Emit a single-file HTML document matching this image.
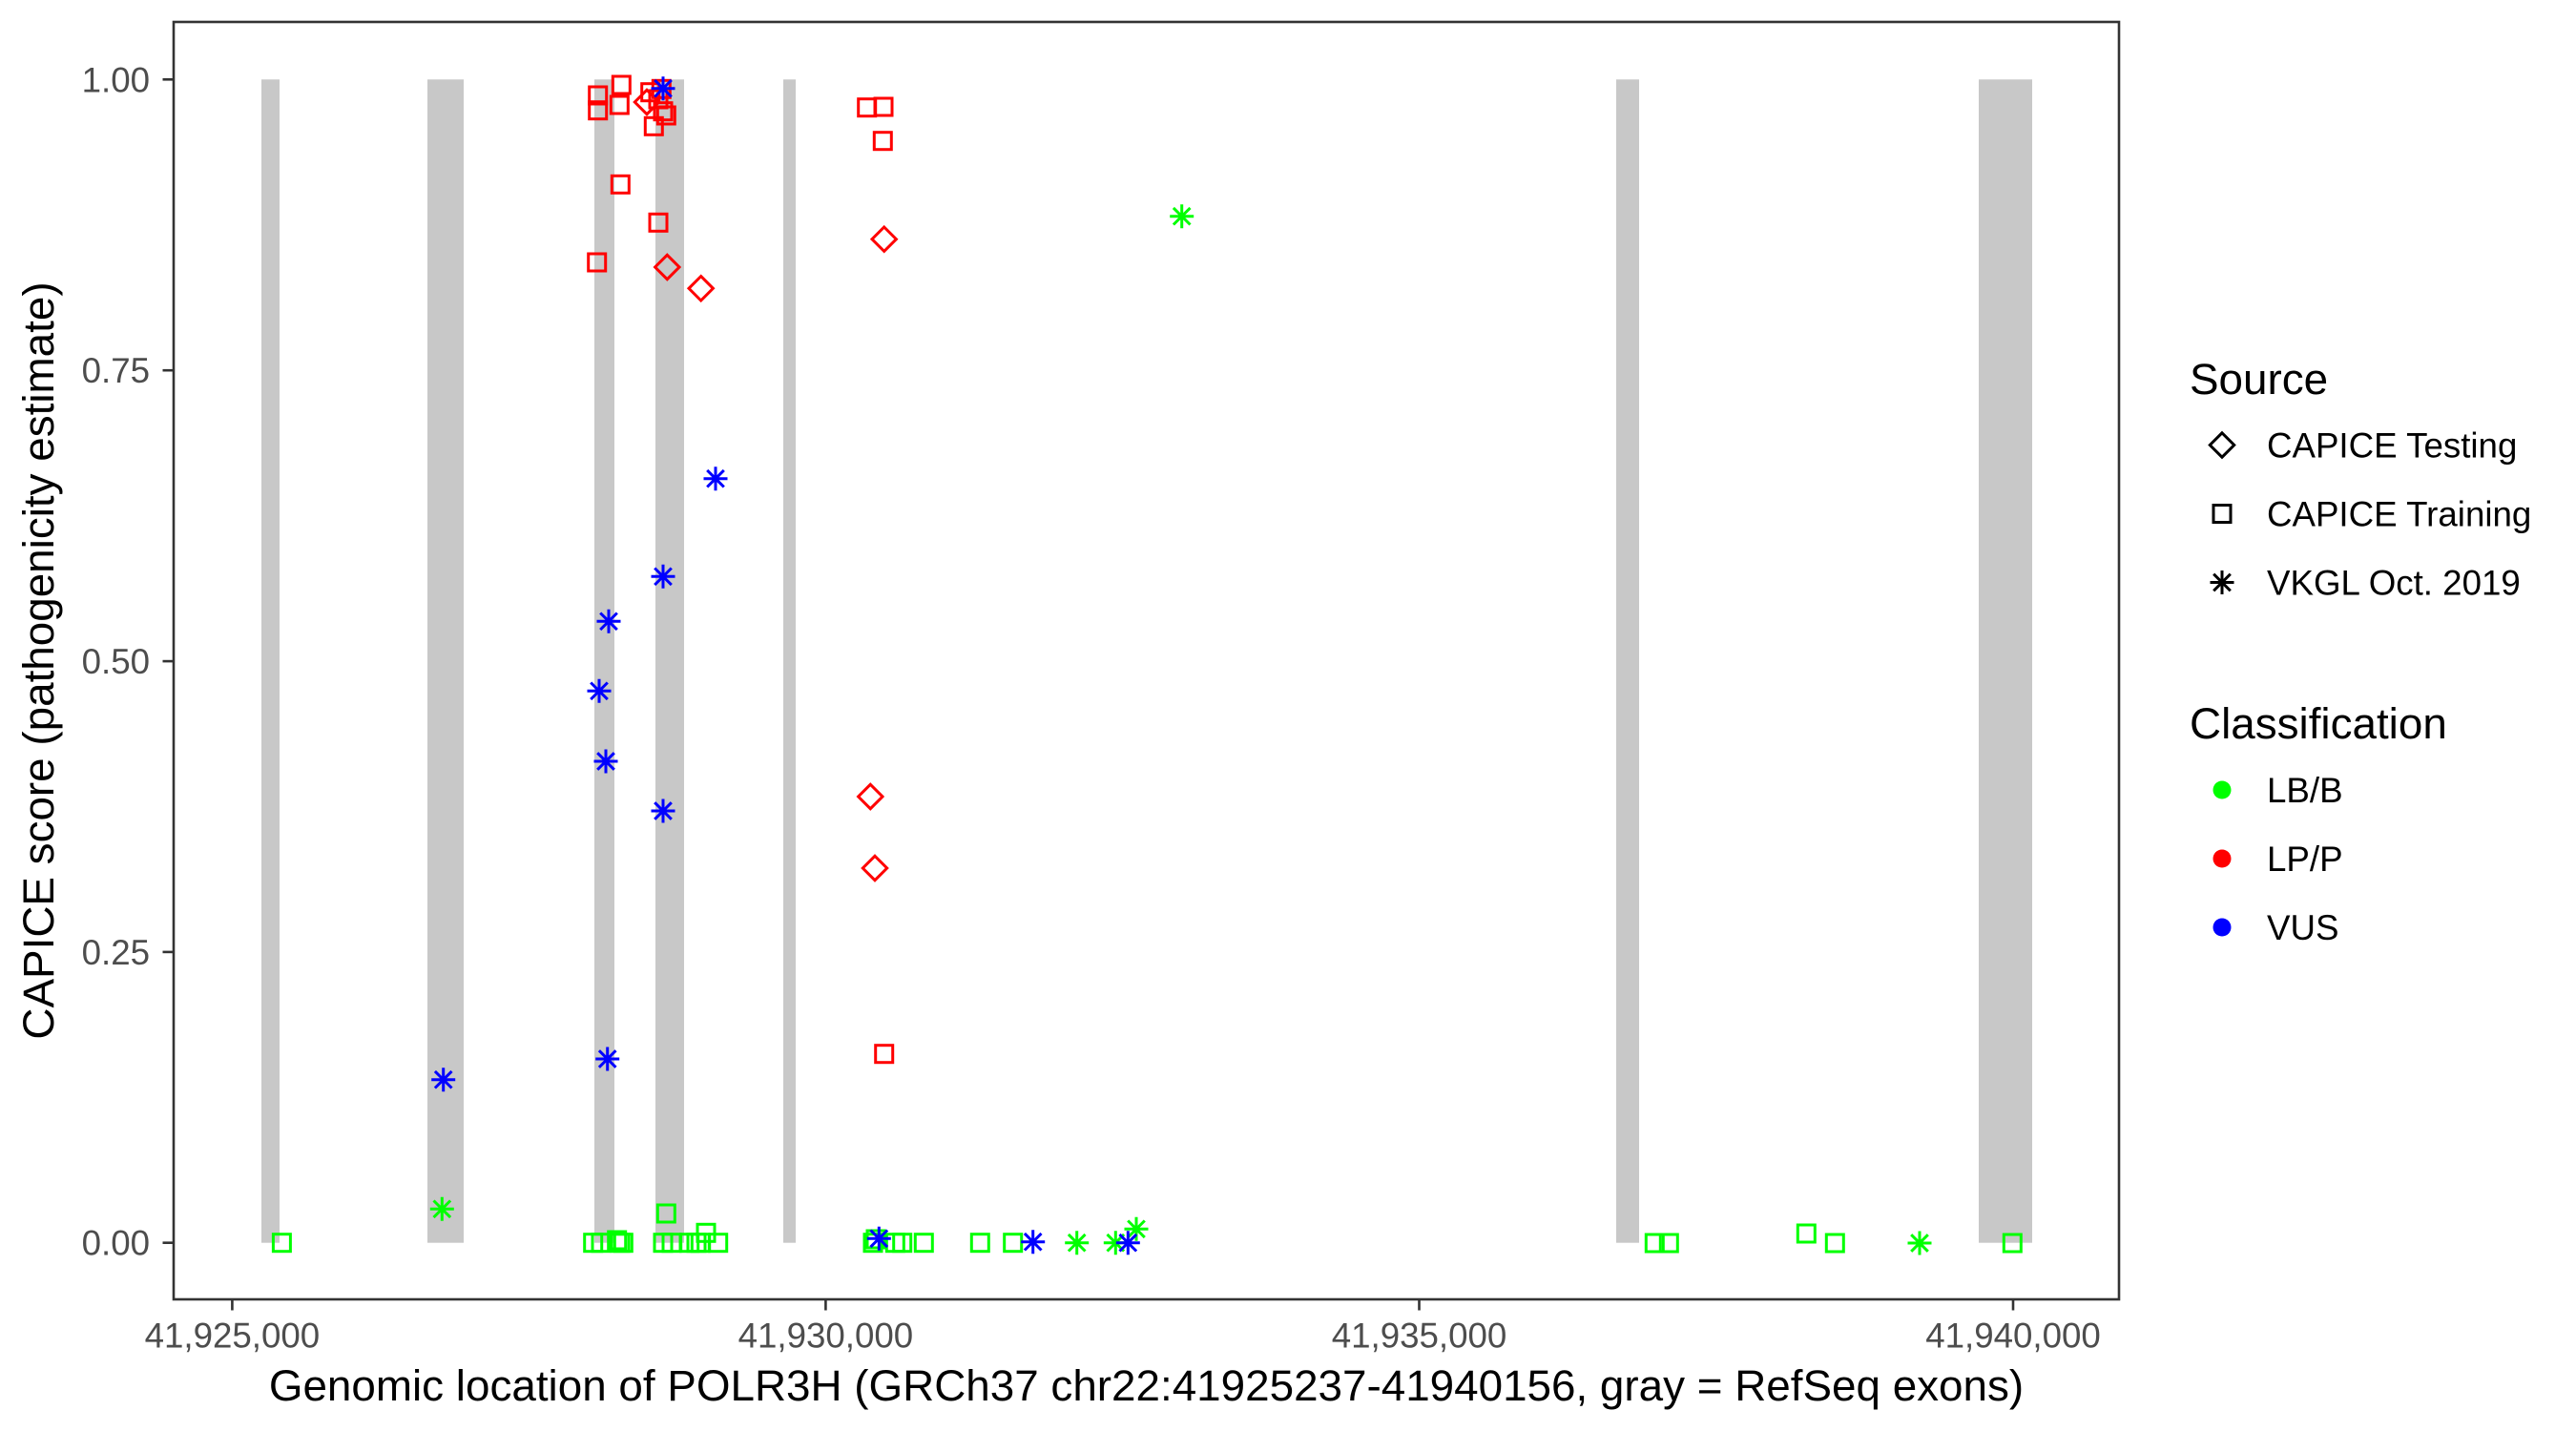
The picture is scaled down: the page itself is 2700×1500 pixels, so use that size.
<!DOCTYPE html>
<html>
<head>
<meta charset="utf-8">
<style>
  html,body{margin:0;padding:0;background:#fff;}
  svg{display:block;}
  text{font-family:"Liberation Sans", Arial, sans-serif;}
</style>
</head>
<body>
<svg width="2700" height="1500" viewBox="0 0 2700 1500" xmlns="http://www.w3.org/2000/svg">
  <rect x="0" y="0" width="2700" height="1500" fill="#ffffff"/>

  <!-- exon bars -->
  <g fill="#c8c8c8">
    <rect x="274" y="83.3" width="19" height="1219.4"/>
    <rect x="448" y="83.3" width="38" height="1219.4"/>
    <rect x="623" y="83.3" width="21" height="1219.4"/>
    <rect x="687" y="83.3" width="30" height="1219.4"/>
    <rect x="821" y="83.3" width="13" height="1219.4"/>
    <rect x="1694" y="83.3" width="24" height="1219.4"/>
    <rect x="2074" y="83.3" width="56" height="1219.4"/>
  </g>

  <!-- green squares -->
  <g fill="none" stroke="#00ff00" stroke-width="3">
    <rect x="286.4" y="1293.7" width="18" height="18"/>
    <rect x="612.7" y="1293.7" width="18" height="18"/>
    <rect x="621" y="1293.7" width="18" height="18"/>
    <rect x="637.7" y="1291" width="18" height="18"/>
    <rect x="641" y="1293.7" width="18" height="18"/>
    <rect x="644.3" y="1293.7" width="18" height="18"/>
    <rect x="689.3" y="1263" width="18" height="18"/>
    <rect x="686" y="1293.7" width="18" height="18"/>
    <rect x="695" y="1293.7" width="18" height="18"/>
    <rect x="713.7" y="1293.7" width="18" height="18"/>
    <rect x="721" y="1293.7" width="18" height="18"/>
    <rect x="725.3" y="1293.7" width="18" height="18"/>
    <rect x="731" y="1283.3" width="18" height="18"/>
    <rect x="743.7" y="1293.7" width="18" height="18"/>
    <rect x="906" y="1293.7" width="18" height="18"/>
    <rect x="909" y="1290" width="18" height="18"/>
    <rect x="929.3" y="1293.7" width="18" height="18"/>
    <rect x="936.7" y="1293.7" width="18" height="18"/>
    <rect x="959.3" y="1293.7" width="18" height="18"/>
    <rect x="1018.3" y="1293.7" width="18" height="18"/>
    <rect x="1052.7" y="1293.7" width="18" height="18"/>
    <rect x="1725.3" y="1294" width="18" height="18"/>
    <rect x="1740.3" y="1294" width="18" height="18"/>
    <rect x="1884.3" y="1284" width="18" height="18"/>
    <rect x="1914.3" y="1294" width="18" height="18"/>
    <rect x="2100.3" y="1294" width="18" height="18"/>
  </g>

  <!-- green asterisks -->
  <g fill="none" stroke="#00ff00" stroke-width="3">
    <path d="M1226.2,226.7h25M1238.7,214.2v25M1229.9,217.9l17.6,17.6M1229.9,235.5l17.6,-17.6"/>
    <path d="M450.8,1267.3h25M463.3,1254.8v25M454.5,1258.5l17.6,17.6M454.5,1276.1l17.6,-17.6"/>
    <path d="M1116.2,1302.7h25M1128.7,1290.2v25M1119.9,1293.9l17.6,17.6M1119.9,1311.5l17.6,-17.6"/>
    <path d="M1156.8,1302.7h25M1169.3,1290.2v25M1160.5,1293.9l17.6,17.6M1160.5,1311.5l17.6,-17.6"/>
    <path d="M1178.5,1288.3h25M1191,1275.8v25M1182.2,1279.5l17.6,17.6M1182.2,1297.1l17.6,-17.6"/>
    <path d="M1999.5,1303h25M2012,1290.5v25M2003.2,1294.2l17.6,17.6M2003.2,1311.8l17.6,-17.6"/>
  </g>

  <!-- red squares -->
  <g fill="none" stroke="#ff0000" stroke-width="3">
    <rect x="617.7" y="91" width="18" height="18"/>
    <rect x="617.7" y="106.7" width="18" height="18"/>
    <rect x="642.3" y="80" width="18" height="18"/>
    <rect x="640.3" y="101" width="18" height="18"/>
    <rect x="672.7" y="87.7" width="18" height="18"/>
    <rect x="684.3" y="84.3" width="18" height="18"/>
    <rect x="681" y="95" width="18" height="18"/>
    <rect x="686" y="107.7" width="18" height="18"/>
    <rect x="689.3" y="112" width="18" height="18"/>
    <rect x="676.3" y="123.3" width="18" height="18"/>
    <rect x="641.3" y="184.3" width="18" height="18"/>
    <rect x="681" y="224.3" width="18" height="18"/>
    <rect x="616.7" y="266" width="18" height="18"/>
    <rect x="899.7" y="103.7" width="18" height="18"/>
    <rect x="917" y="103" width="18" height="18"/>
    <rect x="916.3" y="138.7" width="18" height="18"/>
    <rect x="917.7" y="1095.7" width="18" height="18"/>
  </g>

  <!-- red diamonds -->
  <g fill="none" stroke="#ff0000" stroke-width="3">
    <path d="M678,94.3L690.7,107L678,119.7L665.3,107Z"/>
    <path d="M699.3,267.3L712,280L699.3,292.7L686.6,280Z"/>
    <path d="M734.7,289.6L747.4,302.3L734.7,315L722,302.3Z"/>
    <path d="M926.7,238L939.4,250.7L926.7,263.4L914,250.7Z"/>
    <path d="M912.3,822.3L925,835L912.3,847.7L899.6,835Z"/>
    <path d="M917,897.3L929.7,910L917,922.7L904.3,910Z"/>
  </g>

  <!-- blue asterisks -->
  <g fill="none" stroke="#0000ff" stroke-width="3">
    <path d="M682.5,92.7h25M695,80.2v25M686.2,83.9l17.6,17.6M686.2,101.5l17.6,-17.6"/>
    <path d="M737.5,501.7h25M750,489.2v25M741.2,492.9l17.6,17.6M741.2,510.5l17.6,-17.6"/>
    <path d="M682.5,604.3h25M695,591.8v25M686.2,595.5l17.6,17.6M686.2,613.1l17.6,-17.6"/>
    <path d="M625.5,651.3h25M638,638.8v25M629.2,642.5l17.6,17.6M629.2,660.1l17.6,-17.6"/>
    <path d="M615.5,724.3h25M628,711.8v25M619.2,715.5l17.6,17.6M619.2,733.1l17.6,-17.6"/>
    <path d="M622.5,798h25M635,785.5v25M626.2,789.2l17.6,17.6M626.2,806.8l17.6,-17.6"/>
    <path d="M682.5,850h25M695,837.5v25M686.2,841.2l17.6,17.6M686.2,858.8l17.6,-17.6"/>
    <path d="M624.2,1110h25M636.7,1097.5v25M627.9,1101.2l17.6,17.6M627.9,1118.8l17.6,-17.6"/>
    <path d="M452.2,1131.7h25M464.7,1119.2v25M455.9,1122.9l17.6,17.6M455.9,1140.5l17.6,-17.6"/>
    <path d="M908.8,1298.3h25M921.3,1285.8v25M912.5,1289.5l17.6,17.6M912.5,1307.1l17.6,-17.6"/>
    <path d="M1070.2,1301.7h25M1082.7,1289.2v25M1073.9,1292.9l17.6,17.6M1073.9,1310.5l17.6,-17.6"/>
    <path d="M1169.8,1302.7h25M1182.3,1290.2v25M1173.5,1293.9l17.6,17.6M1173.5,1311.5l17.6,-17.6"/>
  </g>

  <!-- panel border -->
  <rect x="182" y="23" width="2039" height="1339" fill="none" stroke="#333333" stroke-width="2.6"/>

  <!-- ticks -->
  <g stroke="#333333" stroke-width="2.6">
    <line x1="243.4" y1="1362" x2="243.4" y2="1373.5"/>
    <line x1="865.4" y1="1362" x2="865.4" y2="1373.5"/>
    <line x1="1487.5" y1="1362" x2="1487.5" y2="1373.5"/>
    <line x1="2110" y1="1362" x2="2110" y2="1373.5"/>
    <line x1="170.5" y1="83.3" x2="182" y2="83.3"/>
    <line x1="170.5" y1="388.2" x2="182" y2="388.2"/>
    <line x1="170.5" y1="693.1" x2="182" y2="693.1"/>
    <line x1="170.5" y1="997.9" x2="182" y2="997.9"/>
    <line x1="170.5" y1="1302.7" x2="182" y2="1302.7"/>
  </g>

  <!-- tick labels -->
  <g fill="#4d4d4d" font-size="36.7">
    <text x="243.4" y="1412.7" text-anchor="middle">41,925,000</text>
    <text x="865.4" y="1412.7" text-anchor="middle">41,930,000</text>
    <text x="1487.5" y="1412.7" text-anchor="middle">41,935,000</text>
    <text x="2110" y="1412.7" text-anchor="middle">41,940,000</text>
    <text x="157" y="96.3" text-anchor="end">1.00</text>
    <text x="157" y="401.2" text-anchor="end">0.75</text>
    <text x="157" y="706.1" text-anchor="end">0.50</text>
    <text x="157" y="1010.9" text-anchor="end">0.25</text>
    <text x="157" y="1315.7" text-anchor="end">0.00</text>
  </g>

  <!-- axis titles -->
  <text x="1201.5" y="1468" text-anchor="middle" font-size="45.8" fill="#000">Genomic location of POLR3H (GRCh37 chr22:41925237-41940156, gray = RefSeq exons)</text>
  <text transform="translate(56,692.5) rotate(-90)" text-anchor="middle" font-size="45.8" fill="#000">CAPICE score (pathogenicity estimate)</text>

  <!-- legend: Source -->
  <text x="2295" y="413" font-size="45.8" fill="#000">Source</text>
  <path d="M2329,453.8L2341.7,466.5L2329,479.2L2316.3,466.5Z" fill="none" stroke="#000" stroke-width="3"/>
  <rect x="2320" y="529.5" width="18" height="18" fill="none" stroke="#000" stroke-width="3"/>
  <path d="M2316.5,610.5h25M2329,598v25M2320.2,601.7l17.6,17.6M2320.2,619.3l17.6,-17.6" fill="none" stroke="#000" stroke-width="3"/>
  <g font-size="36.7" fill="#000">
    <text x="2376" y="479.5">CAPICE Testing</text>
    <text x="2376" y="551.5">CAPICE Training</text>
    <text x="2376" y="623.5">VKGL Oct. 2019</text>
  </g>

  <!-- legend: Classification -->
  <text x="2295" y="774" font-size="45.8" fill="#000">Classification</text>
  <circle cx="2329" cy="828" r="9.5" fill="#00ff00"/>
  <circle cx="2329" cy="900" r="9.5" fill="#ff0000"/>
  <circle cx="2329" cy="972" r="9.5" fill="#0000ff"/>
  <g font-size="36.7" fill="#000">
    <text x="2376" y="841">LB/B</text>
    <text x="2376" y="913">LP/P</text>
    <text x="2376" y="985">VUS</text>
  </g>
</svg>
</body>
</html>
